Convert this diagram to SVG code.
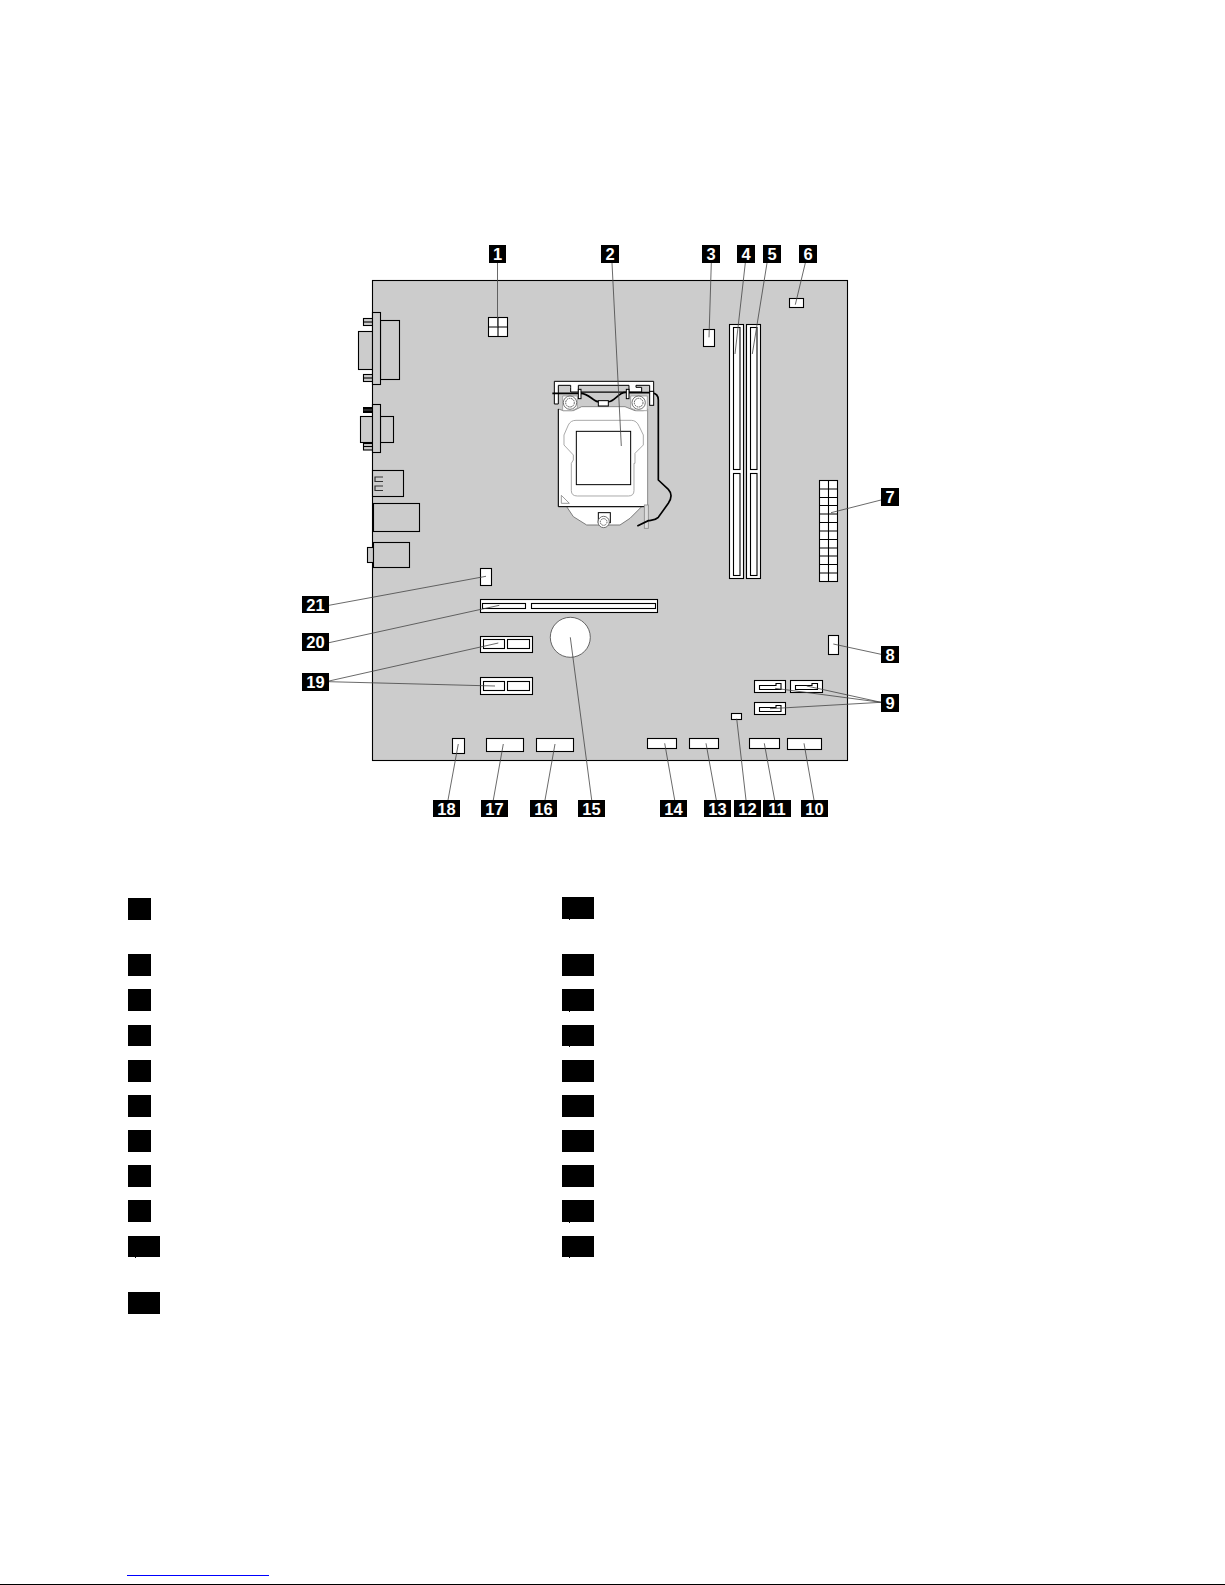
<svg xmlns="http://www.w3.org/2000/svg" width="1225" height="1585" viewBox="0 0 1225 1585">
<style>
.w{fill:#fff;stroke:#000;stroke-width:1.1}
.g{fill:#ccc;stroke:#000;stroke-width:1.1}
.n{fill:none;stroke:#000;stroke-width:1.1}
.lb{fill:#000}
.d{fill:#fff;font-family:"Liberation Sans",Arial,sans-serif;font-weight:700;font-size:16.5px;text-anchor:middle}
.ld{stroke:#444;stroke-width:.8;fill:none}
.k{fill:#000}
</style>
<rect width="1225" height="1585" fill="#fff"/>
<g id="board">
<rect x="372.5" y="280.5" width="475" height="480" fill="#ccc" stroke="#000" stroke-width="1.1"/>
</g>
<g id="rear-ports">
<rect class="g" x="358.5" y="331.5" width="14" height="38"/>
<rect class="g" x="363.5" y="318.5" width="9" height="7"/><path class="n" d="M363.5 322H372.5"/>
<rect class="g" x="363.5" y="374.5" width="9" height="7"/><path class="n" d="M363.5 378H372.5"/>
<rect class="g" x="380.5" y="320.5" width="19" height="59"/>
<rect class="g" x="372.5" y="312.5" width="8" height="72"/>
<rect class="g" x="360.5" y="416.5" width="12" height="26"/>
<rect class="k" x="363" y="407" width="10" height="6"/><path d="M363.5 410H372.5" stroke="#999" stroke-width=".6"/>
<rect class="g" x="363.5" y="443.5" width="9" height="6.500"/><path class="n" d="M363.5 446.500H372.500"/>
<rect class="g" x="380.500" y="416.500" width="13" height="26"/>
<rect class="g" x="372.500" y="404.500" width="8" height="48"/>
<rect class="g" x="372.500" y="470.500" width="31" height="26"/>
<path d="M383 477H375V481.500H383M383 486H375V490.500H383" fill="none" stroke="#333" stroke-width="1.200"/>
<rect class="g" x="373.500" y="503.500" width="46" height="28"/>
<rect class="g" x="367.500" y="547.500" width="6" height="15"/>
<rect class="g" x="373.500" y="542.500" width="36" height="25"/>
</g>
<g id="connector-power4">
<rect class="w" x="488.500" y="317.500" width="19" height="19"/><path class="n" d="M498 317.500V336.500M488.500 327H507.500"/>
</g>
<g id="cpu-socket" transform="translate(540 370) scale(.3333)">
<path d="M43 34H341V66H329V46H288V52H305V66H92V52H92V46H55V102H43Z" fill="#fff" stroke="#000" stroke-width="3"/>
<path d="M115 46H267V66H115Z" fill="#ccc" stroke="#000" stroke-width="3"/>
<path d="M80 410L100 440L140 465H240L270 445L305 410Z" fill="#fff" stroke="#666" stroke-width="2.500"/>
<path d="M55 117L70 122H100L125 110H255L285 122H310L323 117V410H55Z" fill="#fff" stroke="#777" stroke-width="2.500"/>
<path d="M55 117V410H323" fill="none" stroke="#000" stroke-width="3"/>
<path d="M68 78H112V114L96 122H68Z M272 78H322V122H290L272 114Z" fill="#fff" stroke="#888" stroke-width="2"/>
<circle cx="90" cy="98" r="20" fill="#fff" stroke="#555" stroke-width="2.500"/><circle cx="90" cy="98" r="13" fill="none" stroke="#555" stroke-width="3" stroke-dasharray="5 2"/>
<circle cx="296" cy="98" r="20" fill="#fff" stroke="#555" stroke-width="2.500"/><circle cx="296" cy="98" r="13" fill="none" stroke="#555" stroke-width="3" stroke-dasharray="5 2"/>
<path d="M108 151H274Q290 151 298 170L310 195V225L285 250V280H282V362Q282 378 265 378H112Q94 378 94 362V280L100 270V255L72 225V195L85 165Q92 151 108 151Z" fill="#fff" stroke="#999" stroke-width="2.500"/>
<rect x="109" y="184" width="163" height="160" fill="#fff" stroke="#000" stroke-width="3"/>
<path d="M64 376L88 400H64Z" fill="#fff" stroke="#888" stroke-width="2.500"/>
<rect x="175" y="428" width="36" height="30" fill="#fff" stroke="#000" stroke-width="3"/>
<circle cx="191" cy="456" r="17" fill="#fff" stroke="#555" stroke-width="2.500"/><circle cx="191" cy="456" r="10" fill="none" stroke="#555" stroke-width="3" stroke-dasharray="4 2"/>
<rect x="313" y="405" width="12" height="70" fill="#ddd" stroke="#888" stroke-width="2.500"/>
<path d="M37 70H120C145 68 160 95 175 95H205C225 95 240 60 262 68H335C350 70 355 78 355 90V330L385 358C398 372 395 385 385 400L355 442C345 452 335 450 325 452L292 468" fill="none" stroke="#000" stroke-width="5"/>
<rect x="175" y="92" width="30" height="16" fill="#fff" stroke="#000" stroke-width="3"/>
<rect x="115" y="58" width="8" height="28" fill="#fff" stroke="#000" stroke-width="3"/>
<rect x="259" y="58" width="8" height="28" fill="#fff" stroke="#000" stroke-width="3"/>
<rect x="329" y="64" width="12" height="42" fill="#fff" stroke="#000" stroke-width="3"/>
</g>
<g id="connector-3"><rect class="w" x="703.500" y="329.500" width="11" height="17"/></g>
<g id="dimm-1"><rect class="w" x="729.500" y="324.500" width="14" height="254"/><rect class="w" x="733.500" y="327.500" width="6.500" height="142"/><rect class="w" x="733.500" y="473.500" width="6.500" height="102"/></g>
<g id="dimm-2"><rect class="w" x="746.500" y="324.500" width="14" height="254"/><rect class="w" x="750.500" y="327.500" width="6.500" height="142"/><rect class="w" x="750.500" y="473.500" width="6.500" height="102"/></g>
<g id="connector-6"><rect class="w" x="789.500" y="298.500" width="14" height="9"/></g>
<g id="connector-atx">
<rect class="w" x="819.500" y="480.500" width="18" height="101"/>
<path class="n" d="M828.500 480.500V581.500M819.500 489H837.500M819.500 497.500H837.500M819.500 505.500H837.500M819.500 514H837.500M819.500 522.500H837.500M819.500 531H837.500M819.500 539.500H837.500M819.500 548H837.500M819.500 556H837.500M819.500 564.500H837.500M819.500 573H837.500"/>
</g>
<g id="connector-8"><rect class="w" x="828.500" y="635.500" width="10" height="19"/></g>
<g id="sata-1"><rect class="w" x="754.500" y="680.500" width="31" height="12"/><path class="n" d="M759.500 685.500H776V683.500H781V689.500H759.500Z"/></g>
<g id="sata-2"><rect class="w" x="790.500" y="680.500" width="32" height="12"/><path class="n" d="M795.500 685.500H812V683.500H817.500V689.500H795.500Z"/></g>
<g id="sata-3"><rect class="w" x="754.500" y="702.500" width="31" height="12"/><path class="n" d="M759.500 707.500H776V705.500H781V711.500H759.500Z"/></g>
<g id="connector-12"><rect class="w" x="731.500" y="713.500" width="10" height="6"/></g>
<g id="connector-14"><rect class="w" x="647.500" y="738.500" width="29" height="10"/></g>
<g id="connector-13"><rect class="w" x="689.500" y="738.500" width="29" height="10"/></g>
<g id="connector-11"><rect class="w" x="749.500" y="738.500" width="30" height="10"/></g>
<g id="connector-10"><rect class="w" x="787.500" y="738.500" width="34" height="11"/></g>
<g id="connector-16"><rect class="w" x="536.500" y="738.500" width="37" height="13"/></g>
<g id="connector-17"><rect class="w" x="486.500" y="738.500" width="37" height="13"/></g>
<g id="connector-18"><rect class="w" x="452.500" y="738.500" width="12" height="15"/></g>
<g id="connector-21"><rect class="w" x="480.500" y="568.500" width="11" height="17"/></g>
<g id="pcie-x16"><rect class="w" x="480.500" y="599.500" width="177" height="13"/><rect class="w" x="482.500" y="603.500" width="43" height="5"/><rect class="w" x="531.500" y="603.500" width="124" height="5"/></g>
<g id="pcie-x1-1"><rect class="w" x="480.500" y="636.500" width="52" height="16"/><rect class="w" x="483.500" y="639.500" width="21" height="9"/><rect class="w" x="507.500" y="639.500" width="22" height="9"/></g>
<g id="pcie-x1-2"><rect class="w" x="480.500" y="677.500" width="52" height="17"/><rect class="w" x="483.500" y="681.500" width="21" height="9"/><rect class="w" x="507.500" y="681.500" width="22" height="9"/></g>
<g id="battery"><circle cx="570.300" cy="637.300" r="20" fill="#fff" stroke="#444" stroke-width=".8"/></g>
<g id="connectors">
<path class="ld" d="M497.500 263V327M612 263L621.300 446M711.300 263L709 337.300M745.300 263L735 354M767 263L752.300 354M805.300 263L795.300 304.700M881 500L831 512.700M881 654.300L833.300 644M881 702.300L806.700 686M881 702.300L775 688.300M881 702.300L770 708.700M814 800L804 743.300M774.700 800L764.300 743.300M746 800L736.700 718.700M716.300 800L706 743.300M674.700 800L664.700 743.300M591.700 800L570.300 637.300M545 800L555 744M493.300 800L503.300 744M448 800L458.300 744M329 681L498.300 643M329 681.700L495 686M329 642.700L499.300 605.300M329 605.300L486 576.300"/>
</g>
<g id="label-1"><rect class="lb" x="489" y="245" width="17" height="18"/><text class="d" x="497.500" y="260">1</text></g>
<g id="label-2"><rect class="lb" x="601" y="245" width="18" height="18"/><text class="d" x="610" y="260">2</text></g>
<g id="label-3"><rect class="lb" x="702" y="245" width="18" height="18"/><text class="d" x="711" y="260">3</text></g>
<g id="label-4"><rect class="lb" x="737" y="245" width="18" height="18"/><text class="d" x="746" y="260">4</text></g>
<g id="label-5"><rect class="lb" x="763" y="245" width="18" height="18"/><text class="d" x="772" y="260">5</text></g>
<g id="label-6"><rect class="lb" x="799" y="245" width="18" height="18"/><text class="d" x="808" y="260">6</text></g>
<g id="label-7"><rect class="lb" x="881" y="488" width="18" height="18"/><text class="d" x="890" y="503">7</text></g>
<g id="label-8"><rect class="lb" x="881" y="646" width="18" height="17"/><text class="d" x="890" y="660.500">8</text></g>
<g id="label-9"><rect class="lb" x="881" y="694" width="18" height="18"/><text class="d" x="890" y="709">9</text></g>
<g id="label-10"><rect class="lb" x="801" y="800" width="27" height="17"/><text class="d" x="814.500" y="814.500">10</text></g>
<g id="label-11"><rect class="lb" x="763" y="800" width="28" height="17"/><text class="d" x="777" y="814.500">11</text></g>
<g id="label-12"><rect class="lb" x="734" y="800" width="27" height="17"/><text class="d" x="747.500" y="814.500">12</text></g>
<g id="label-13"><rect class="lb" x="704" y="800" width="27" height="17"/><text class="d" x="717.500" y="814.500">13</text></g>
<g id="label-14"><rect class="lb" x="660" y="800" width="27" height="17"/><text class="d" x="673.500" y="814.500">14</text></g>
<g id="label-15"><rect class="lb" x="578" y="800" width="27" height="17"/><text class="d" x="591.500" y="814.500">15</text></g>
<g id="label-16"><rect class="lb" x="530" y="800" width="27" height="17"/><text class="d" x="543.500" y="814.500">16</text></g>
<g id="label-17"><rect class="lb" x="481" y="800" width="27" height="17"/><text class="d" x="494.500" y="814.500">17</text></g>
<g id="label-18"><rect class="lb" x="433" y="800" width="27" height="17"/><text class="d" x="446.500" y="814.500">18</text></g>
<g id="label-19"><rect class="lb" x="302" y="673" width="27" height="18"/><text class="d" x="315.500" y="688">19</text></g>
<g id="label-20"><rect class="lb" x="302" y="633" width="27" height="18"/><text class="d" x="315.500" y="648">20</text></g>
<g id="label-21"><rect class="lb" x="302" y="596" width="27" height="17"/><text class="d" x="315.500" y="610.500">21</text></g>
<g id="legend-left" class="lb">
<rect x="128" y="898" width="23" height="22"/><rect x="128" y="954" width="23" height="22"/><rect x="128" y="989" width="23" height="22"/><rect x="128" y="1025" width="23" height="21"/><rect x="128" y="1060" width="23" height="22"/><rect x="128" y="1095" width="23" height="22"/><rect x="128" y="1130" width="23" height="22"/><rect x="128" y="1165" width="23" height="22"/><rect x="128" y="1200" width="23" height="22"/><rect x="128" y="1236" width="32" height="21"/><rect x="135" y="1257" width="1" height="1"/><rect x="128" y="1292" width="32" height="22"/>
</g>
<g id="legend-right" class="lb">
<rect x="562" y="897" width="32" height="22"/><rect x="569" y="919" width="1" height="1"/><rect x="562" y="954" width="32" height="22"/><rect x="562" y="989" width="32" height="22"/><rect x="569" y="1011" width="1" height="1"/><rect x="562" y="1025" width="32" height="21"/><rect x="569" y="1046" width="1" height="1"/><rect x="562" y="1060" width="32" height="22"/><rect x="562" y="1095" width="32" height="22"/><rect x="562" y="1130" width="32" height="22"/><rect x="562" y="1165" width="32" height="22"/><rect x="562" y="1200" width="32" height="22"/><rect x="569" y="1222" width="1" height="1"/><rect x="562" y="1236" width="32" height="21"/><rect x="569" y="1257" width="1" height="1"/>
</g>
<g id="footer">
<rect x="127" y="1575" width="142" height="1" fill="#00f"/>
<rect x="0" y="1584" width="1225" height="1" fill="#000"/>
</g>
</svg>
